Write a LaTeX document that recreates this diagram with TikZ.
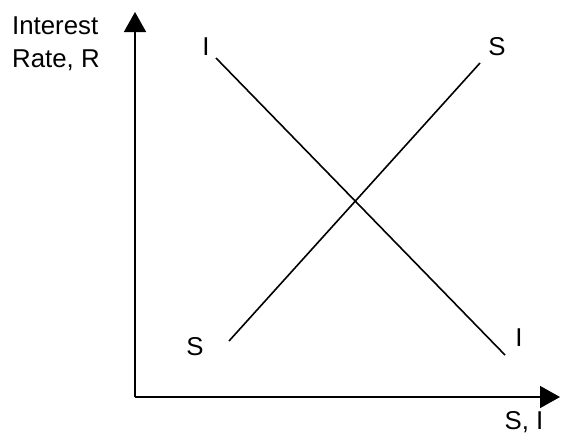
\documentclass[tikz,border=0pt]{standalone}
\usepackage{fontspec}
\setmainfont{Liberation Sans}
\usetikzlibrary{arrows.meta, positioning}

\begin{document}
\begin{tikzpicture}[
  x=1pt, y=-1pt,
  font=\fontsize{25.8}{33}\selectfont,
  axis/.style={line width=1.6pt, -{Triangle[length=20pt, width=22pt]}},
  curve/.style={line width=1.6pt},
  lbl/.style={anchor=base, inner sep=0pt}
]
\useasboundingbox (0,0) rectangle (561,434);

% Axes
\coordinate (o) at (135,397);
\coordinate (ytip) at (135,12);
\coordinate (xtip) at (560,397);
\draw[axis] (o) -- (ytip);
\draw[axis] (o) -- (xtip);

% Axis labels
\node[anchor=north west, inner sep=0pt, align=left] (rate) at (12,17) {Interest\\Rate, R};
\node[lbl] (si) at (524,429) {S, I};

% Investment and saving schedules
\coordinate (itop) at (216,58);
\coordinate (ibot) at (505,355);
\coordinate (sbot) at (229,341);
\coordinate (stop) at (480,63);
\draw[curve] (itop) -- (ibot);
\draw[curve] (sbot) -- (stop);

% Line labels
\node[lbl] (ilt) at (206,55) {I};
\node[lbl] (ilb) at (519,346) {I};
\node[lbl] (slt) at (497,55) {S};
\node[lbl] (slb) at (195,355) {S};

\end{tikzpicture}
\end{document}
